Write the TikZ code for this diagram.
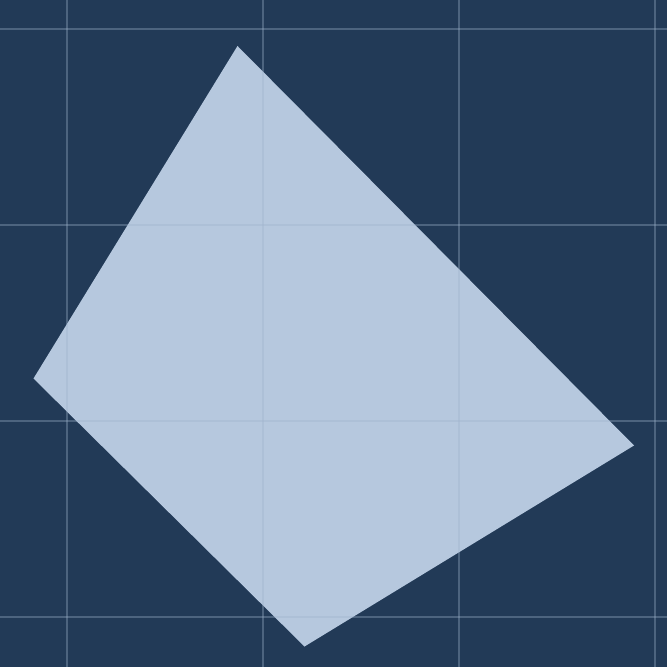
\documentclass[tikz,border=0pt]{standalone}
\usepackage{tikz}

\definecolor{navy}{HTML}{223A57}
\definecolor{paleblue}{HTML}{B6C8DE}
\definecolor{gridline}{HTML}{9FB3CC}

\begin{document}
\begin{tikzpicture}[x=0.01cm, y=-0.01cm]
    \fill[navy] (0,0) rectangle (667,667);
    \useasboundingbox (0,0) rectangle (667,667);

    \coordinate (T) at (237.5,46);
    \coordinate (L) at (33.5,378.5);
    \coordinate (B) at (304.5,646.5);
    \coordinate (R) at (634,445.5);

    \fill[paleblue] (T) -- (R) -- (B) -- (L) -- cycle;

    \foreach \k in {67,263,459,655} {
        \draw[gridline, opacity=0.35, line width=0.45pt] (\k,0) -- (\k,667);
    }
    \foreach \k in {29,225,421,617} {
        \draw[gridline, opacity=0.35, line width=0.45pt] (0,\k) -- (667,\k);
    }
\end{tikzpicture}
\end{document}
